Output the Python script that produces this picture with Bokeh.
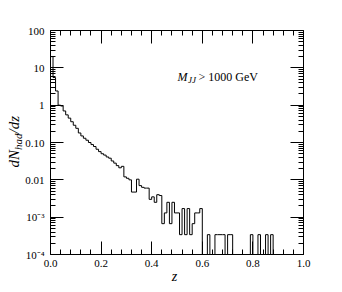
import math
import numpy as np
from bokeh.plotting import figure
from bokeh.models import FixedTicker, LinearAxis, LogAxis, CustomJSTickFormatter, Label, ColumnDataSource
from bokeh.embed import file_html
from bokeh.resources import INLINE

# ---------------- data ----------------
bin_width = 0.01
dn_dz = [
    20.0, 5.5, 2.4, 1.0, 0.95, 0.70, 0.55, 0.45, 0.36, 0.29,
    0.24, 0.18, 0.15, 0.13, 0.115, 0.10, 0.088, 0.078, 0.066, 0.057,
    0.050, 0.046, 0.041, 0.038, 0.032, 0.028, 0.024, 0.021, 0.023, 0.012,
    0.011, 0.010, 0.0047, 0.0047, 0.0104, 0.0070, 0.0063, 0.0060, 0.0060, 0.0030,
    0.0035, 0.0025, 0.0040, 0.0038, 0.00067, 0.0013, 0.0025, 0.00067, 0.0025, 0.0013,
    0.0013, 0.00034, 0.0017, 0.00034, 0.0017, 0.00034, 0.00067, 0.0013, 0.0013, 0.0017,
    0.0, 0.0, 0.00034, 0.0, 0.0, 0.00034, 0.00034, 0.00034, 0.00034, 0.0,
    0.00034, 0.00034, 0.0, 0.0, 0.0, 0.0, 0.0, 0.0, 0.0, 0.00034,
    0.0, 0.0, 0.00034, 0.0, 0.0, 0.00034, 0.0, 0.00034, 0.0, 0.0,
    0.0, 0.0, 0.0, 0.0, 0.0, 0.0, 0.0, 0.0, 0.0, 0.0,
]
x_lim = (0.0, 1.0)
y_lim = (1e-4, 100.0)
x_ticks = [0.0, 0.2, 0.4, 0.6, 0.8, 1.0]
x_tick_labels = ["0.0", "0.2", "0.4", "0.6", "0.8", "1.0"]
y_ticks = [1e-4, 1e-3, 1e-2, 1e-1, 1.0, 10.0, 100.0]
y_tick_labels = ["10\u207b\u2074", "10\u207b\u00b3", "0.01", "0.10", "1", "10", "100"]
x_title = "z"
y_title_parts = ["dN", "had", "/dz"]
cut_parts = ["M", "JJ", " > 1000 GeV"]

# ---------------- layout (canvas = page pixels) ----------------
# The drawing area covers the whole canvas; the visible box (axes) is placed with fixed_location.
W, H = 334, 284
BOX_L, BOX_R, BOX_T, BOX_B = 50, 303, 30, 254
FONT = "Liberation Serif"

ppx = (BOX_R - BOX_L) / (x_lim[1] - x_lim[0])
xr = (x_lim[0] - BOX_L / ppx, x_lim[1] + (W - BOX_R) / ppx)
ppd = (BOX_B - BOX_T) / (math.log10(y_lim[1]) - math.log10(y_lim[0]))
yr = (y_lim[0] * 10 ** (-(H - BOX_B) / ppd), y_lim[1] * 10 ** (BOX_T / ppd))


def sx(px):
    return px


def sy(py):
    return H - py


p = figure(width=W, height=H, x_range=xr, y_range=yr, y_axis_type="log",
           x_axis_location=None, y_axis_location=None,
           output_backend="svg", toolbar_location=None,
           min_border_left=0, min_border_right=0, min_border_top=0, min_border_bottom=0)
p.outline_line_color = None
p.background_fill_color = "white"
p.border_fill_color = "white"
for g in p.grid:
    g.visible = False

edges = np.arange(len(dn_dz) + 1) * bin_width
vals = [v if v > 0 else y_lim[0] for v in dn_dz]
vals = vals + [vals[-1]]
src = ColumnDataSource(dict(x=edges, y=vals))
p.step("x", "y", source=src, mode="after", line_color="black", line_width=1)

x_minor = [round(0.04 * k, 2) for k in range(1, 25) if k % 5 != 0]
y_minor = [k * 10.0 ** e for e in range(-4, 2) for k in range(2, 10)]

xfmt = CustomJSTickFormatter(args=dict(v=x_ticks, l=x_tick_labels), code="""
for (let i = 0; i < v.length; i++) { if (Math.abs(tick - v[i]) < 1e-6) return l[i]; }
return "";""")
yfmt = CustomJSTickFormatter(args=dict(v=y_ticks, l=y_tick_labels), code="""
for (let i = 0; i < v.length; i++) { if (Math.abs(Math.log10(tick) - Math.log10(v[i])) < 1e-6) return l[i]; }
return "";""")
blank = CustomJSTickFormatter(code="return '';")


def style(ax):
    ax.axis_line_color = "black"
    ax.axis_line_width = 1
    ax.major_tick_in = 13
    ax.major_tick_out = 0
    ax.minor_tick_in = 5
    ax.minor_tick_out = 0
    ax.major_tick_line_color = "black"
    ax.minor_tick_line_color = "black"
    ax.major_label_text_font = FONT
    ax.major_label_text_font_size = "11px"
    ax.major_label_text_color = "black"


bottom = LinearAxis(ticker=FixedTicker(ticks=x_ticks, minor_ticks=x_minor), formatter=xfmt,
                    fixed_location=y_lim[0], bounds=x_lim)
top = LinearAxis(ticker=FixedTicker(ticks=x_ticks, minor_ticks=x_minor), formatter=blank,
                 fixed_location=y_lim[1], bounds=x_lim)
left = LogAxis(ticker=FixedTicker(ticks=y_ticks, minor_ticks=y_minor), formatter=yfmt,
               fixed_location=x_lim[0], bounds=y_lim)
right = LogAxis(ticker=FixedTicker(ticks=y_ticks, minor_ticks=y_minor), formatter=blank,
                fixed_location=x_lim[1], bounds=y_lim)
for ax in (bottom, top, left, right):
    style(ax)
bottom.major_label_standoff = 5
left.major_label_standoff = 6
top.major_label_standoff = 0
right.major_label_standoff = 0

p.add_layout(bottom, "below")
p.add_layout(top, "above")
p.add_layout(left, "left")
p.add_layout(right, "right")

# x title
p.add_layout(Label(x=sx(174), y=sy(276), text=x_title, text_font=FONT, text_font_style="italic",
                   text_font_size="14px", text_align="center", text_baseline="middle",
                   text_color="black", x_units="screen", y_units="screen"))

# y title (rotated, pieced with subscript); each piece placed by its centre
big, small = 15, 11
common = dict(angle=math.pi / 2, text_font=FONT, text_font_style="italic", text_align="center",
              text_baseline="middle", text_color="black", x_units="screen", y_units="screen")
ystart = 167
w0 = 1.167 * big
w1 = 1.5 * small
w2 = 1.167 * big
p.add_layout(Label(x=sx(13), y=sy(ystart - w0 / 2), text=y_title_parts[0],
                   text_font_size=f"{big}px", **common))
p.add_layout(Label(x=sx(17), y=sy(ystart - w0 - w1 / 2), text=y_title_parts[1],
                   text_font_size=f"{small}px", **common))
p.add_layout(Label(x=sx(13), y=sy(ystart - w0 - w1 - w2 / 2), text=y_title_parts[2],
                   text_font_size=f"{big}px", **common))

# cut annotation
ax0, base = 177, 76.5
c2 = dict(text_font=FONT, text_align="left", text_baseline="alphabetic", text_color="black",
          x_units="screen", y_units="screen")
p.add_layout(Label(x=sx(ax0), y=sy(base), text=cut_parts[0], text_font_style="italic",
                   text_font_size="12px", **c2))
p.add_layout(Label(x=sx(ax0 + 10.5), y=sy(base + 3), text=cut_parts[1], text_font_style="italic",
                   text_font_size="9px", **c2))
p.add_layout(Label(x=sx(ax0 + 21), y=sy(base), text=cut_parts[2], text_font_size="12px", **c2))

open("out.html", "w").write(file_html(p, INLINE))
